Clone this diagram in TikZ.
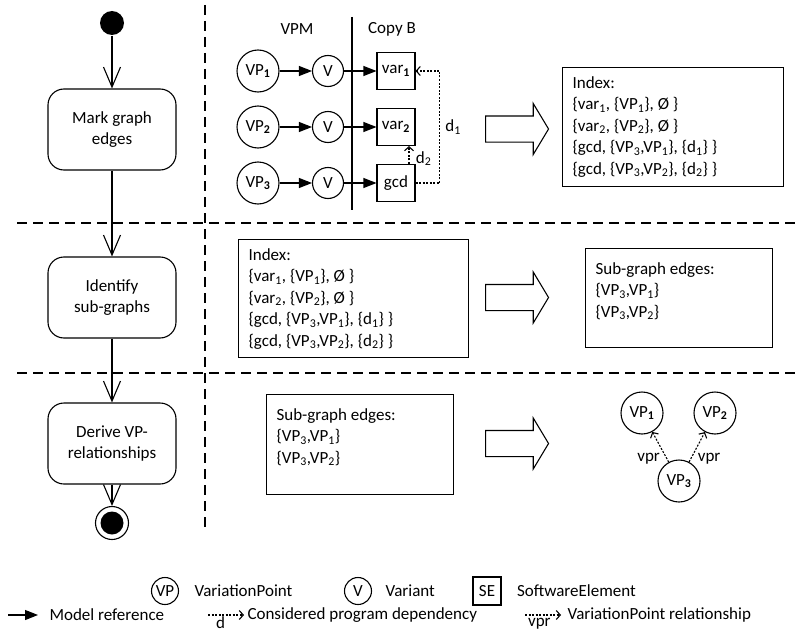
\documentclass[tikz,border=0pt]{standalone}
\usepackage{fontspec}
\setmainfont{Carlito}
\usetikzlibrary{arrows.meta,shapes.arrows,positioning}

\newcommand{\boldsub}[1]{\textsubscript{\textbf{#1}}}

\tikzset{
  activity/.style={draw, rounded corners=16pt, minimum width=128pt, minimum height=81pt, align=center},
  flow/.style={-{Straight Barb[length=20pt,width=17pt]}},
  modelref/.style={-{Triangle[length=13pt,width=10pt]}},
  dep/.style={dash pattern=on 2pt off 1.5pt, -{Straight Barb[length=4pt,width=9pt]}},
  vpnode/.style={draw, circle, minimum size=42pt, inner sep=0pt},
  vnode/.style={draw, circle, minimum size=31pt, inner sep=0pt},
  elem/.style={draw, minimum width=38pt, minimum height=37pt, inner sep=0pt},
  textbox/.style={draw, anchor=north west, inner xsep=10pt, inner ysep=9pt},
  bigarrow/.style={draw, single arrow, anchor=tail, minimum height=63pt, inner xsep=0pt,
    inner ysep=12.5pt, single arrow head extend=12.5pt, single arrow tip angle=118},
  lane/.style={dash pattern=on 10pt off 6pt},
  legend/.style={inner sep=0pt},
}

\begin{document}
\begin{tikzpicture}[x=1pt, y=-1pt, line width=1.1pt, font=\fontsize{17}{21.5}\selectfont]
    \useasboundingbox (0,0) rectangle (795,634);

    % Swimlanes
        \draw[lane] (205,5) -- (205,532);
        \draw[lane] (17,223) -- (795,223);
        \draw[lane] (17,373) -- (795,373);

    % Activity flow
        \node[fill, circle, minimum size=24pt, inner sep=0pt] (start) at (112,23) {};
        \node[activity] (mark) at (112,129.5) {Mark graph\\edges};
        \node[activity] (ident) at (112,297.5) {Identify\\sub-graphs};
        \node[activity] (derive) at (112,443.5) {Derive VP-\\relationships};
        \node[draw, circle, minimum size=33pt, inner sep=0pt] (stop) at (112,523) {};
        \fill (stop.center) circle (11.5pt);

        \draw[flow] (start) -- (mark);
        \draw[flow] (mark) -- (ident);
        \draw[flow] (ident) -- (derive);
        \draw[flow] (derive) -- (stop);

    % Mark graph edges: VPM / Copy B
        \node (vpm) at (297,29) {VPM};
        \node (copyb) at (392,29) {Copy B};
        \draw (352,17) -- (352,210);

        \node[vpnode] (vpa) at (258,71) {VP\boldsub{1}};
        \node[vpnode] (vpb) at (258,127) {VP\boldsub{2}};
        \node[vpnode] (vpc) at (258,183) {VP\boldsub{3}};

        \node[vnode] (va) at (328,71) {V};
        \node[vnode] (vb) at (328,127) {V};
        \node[vnode] (vc) at (328,183) {V};

        \node[elem] (vara) at (396,71) {var\boldsub{1}};
        \node[elem] (varb) at (396,127) {var\boldsub{2}};
        \node[elem] (gcd) at (396,183) {gcd};

        \draw[modelref] (vpa) -- (va);
        \draw[modelref] (vpb) -- (vb);
        \draw[modelref] (vpc) -- (vc);
        \draw[modelref] (va) -- (vara);
        \draw[modelref] (vb) -- (varb);
        \draw[modelref] (vc) -- (gcd);

        \draw[dep] (gcd.east) -| ([xshift=24pt]vara.east) node[pos=0.75, right=2pt] {d\textsubscript{1}} -- (vara.east);
        \draw[dep] ([xshift=13pt]gcd.north) -- ([xshift=13pt]varb.south) node[pos=0.3, right=3pt] {d\textsubscript{2}};

        \node[bigarrow] (arra) at (485,129) {};

        \node[textbox] (idxa) at (562,67) {\parbox[t][101pt][t]{201pt}{Index:\\
            \{var\textsubscript{1}, \{VP\textsubscript{1}\}, Ø \}\\
            \{var\textsubscript{2}, \{VP\textsubscript{2}\}, Ø \}\\
            \{gcd, \{VP\textsubscript{3},VP\textsubscript{1}\}, \{d\textsubscript{1}\} \}\\
            \{gcd, \{VP\textsubscript{3},VP\textsubscript{2}\}, \{d\textsubscript{2}\} \}}};

    % Identify sub-graphs
        \node[textbox] (idxb) at (238,239) {\parbox[t][100pt][t]{210pt}{Index:\\
            \{var\textsubscript{1}, \{VP\textsubscript{1}\}, Ø \}\\
            \{var\textsubscript{2}, \{VP\textsubscript{2}\}, Ø \}\\
            \{gcd, \{VP\textsubscript{3},VP\textsubscript{1}\}, \{d\textsubscript{1}\} \}\\
            \{gcd, \{VP\textsubscript{3},VP\textsubscript{2}\}, \{d\textsubscript{2}\} \}}};

        \node[bigarrow] (arrb) at (485,297.5) {};

        \node[textbox, inner ysep=14pt] (sga) at (585,248) {\parbox[t][71pt][t]{167pt}{Sub-graph edges:\\
            \{VP\textsubscript{3},VP\textsubscript{1}\}\\
            \{VP\textsubscript{3},VP\textsubscript{2}\}}};

    % Derive VP-relationships
        \node[textbox, inner ysep=14pt] (sgb) at (266,394) {\parbox[t][72pt][t]{167pt}{Sub-graph edges:\\
            \{VP\textsubscript{3},VP\textsubscript{1}\}\\
            \{VP\textsubscript{3},VP\textsubscript{2}\}}};

        \node[bigarrow] (arrc) at (485,443.5) {};

        \node[vpnode] (rela) at (642,413) {VP\boldsub{1}};
        \node[vpnode] (relb) at (715,413) {VP\boldsub{2}};
        \node[vpnode] (relc) at (679,481) {VP\boldsub{3}};

        \draw[dep] (relc) -- (rela) node[pos=0.12, left=3pt] {vpr};
        \draw[dep] (relc) -- (relb) node[pos=0.12, right=3pt] {vpr};

    % Legend
        \node[vpnode, minimum size=27pt] (lvp) at (165,591) {VP};
        \node[legend, right=15pt of lvp] (lvptext) {VariationPoint};
        \node[vnode, minimum size=27pt] (lv) at (358,591) {V};
        \node[legend, right=13pt of lv] (lvtext) {Variant};
        \node[draw, minimum size=28pt, inner sep=0pt] (lse) at (487,591) {SE};
        \node[legend, right=15pt of lse] (lsetext) {SoftwareElement};

        \coordinate (mra) at (8,615);
        \coordinate (mrb) at (38,615);
        \draw[modelref] (mra) -- (mrb);
        \node[legend, right=11pt of mrb] (mrtext) {Model reference};

        \coordinate (dpa) at (208,615);
        \coordinate (dpb) at (244,615);
        \draw[dep] (dpa) -- (dpb) node[pos=0.35, below=1pt, inner sep=0pt] {d};
        \node[legend, right=3pt of dpb] (dptext) {Considered program dependency};

        \coordinate (vra) at (525,615);
        \coordinate (vrb) at (561,615);
        \draw[dep] (vra) -- (vrb) node[pos=0.4, below=3pt, inner sep=0pt] {vpr};
        \node[legend, right=6pt of vrb] (vrtext) {VariationPoint relationship};

\end{tikzpicture}
\end{document}
